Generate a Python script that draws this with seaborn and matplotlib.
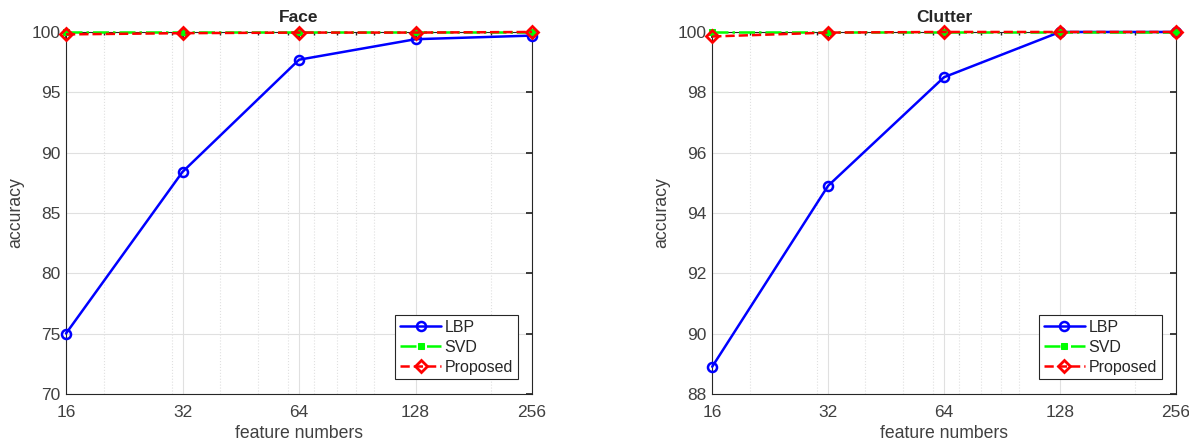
import numpy as np
import pandas as pd
import matplotlib
matplotlib.use("Agg")
import matplotlib.pyplot as plt
import matplotlib.ticker as mticker
import seaborn as sns

# ── data ─────────────────────────────────────────────
features = [16, 32, 64, 128, 256]

face_lbp      = [75.0, 88.4, 97.7, 99.4, 99.7]
face_svd      = [100.0, 100.0, 100.0, 100.0, 100.0]
face_proposed = [99.8, 99.9, 99.95, 99.95, 100.0]

clutter_lbp      = [88.9, 94.9, 98.5, 100.0, 100.0]
clutter_svd      = [100.0, 100.0, 100.0, 100.0, 100.0]
clutter_proposed = [99.85, 99.98, 100.0, 100.0, 100.0]

face_yticks    = [70, 75, 80, 85, 90, 95, 100]
clutter_yticks = [88, 90, 92, 94, 96, 98, 100]

sns.set_theme(style="white")
plt.rcParams["font.family"] = ["Liberation Sans", "DejaVu Sans"]

fig = plt.figure(figsize=(11.89, 4.44), dpi=100)
ax1 = fig.add_axes([0.0555, 0.113, 0.392, 0.815])
ax2 = fig.add_axes([0.599, 0.113, 0.390, 0.815])

def draw(ax, lbp, svd, prop, title, yticks):
    df = pd.DataFrame({"f": features, "LBP": lbp, "SVD": svd, "Proposed": prop})
    sns.lineplot(data=df, x="f", y="LBP", ax=ax, color="#0000ff", lw=1.8,
                 marker="o", ms=6.5, mfc="none", mec="#0000ff", mew=1.8,
                 label="LBP", clip_on=False, zorder=3)
    sns.lineplot(data=df, x="f", y="SVD", ax=ax, color="#00ff00", lw=1.8,
                 linestyle="-.", marker="s", ms=5, mfc="#00ff00", mec="#00ff00",
                 label="SVD", clip_on=False, zorder=4)
    sns.lineplot(data=df, x="f", y="Proposed", ax=ax, color="#ff0000", lw=1.8,
                 linestyle="--", marker="D", ms=6.5, mfc="none", mec="#ff0000", mew=2,
                 label="Proposed", clip_on=False, zorder=5)
    ax.set_xscale("log", base=2)
    ax.set_xlim(16, 256)
    ax.set_ylim(yticks[0], yticks[-1])
    ax.set_xticks(features)
    ax.xaxis.set_major_formatter(mticker.FixedFormatter([str(v) for v in features]))
    ax.xaxis.set_minor_locator(mticker.FixedLocator([20, 30, 40, 50, 60, 70, 80, 90, 100, 200]))
    ax.xaxis.set_minor_formatter(mticker.NullFormatter())
    ax.set_yticks(yticks)
    ax.grid(which="major", color="#e0e0e0", lw=0.8)
    ax.grid(which="minor", axis="x", color="#e0e0e0", lw=0.8, ls=":")
    ax.tick_params(which="both", direction="in", length=4, color="#262626",
                   labelsize=12.5, labelcolor="#404040", top=True, right=True, pad=4)
    ax.tick_params(axis="x", which="major", pad=8)
    ax.tick_params(which="minor", length=2)
    for s in ax.spines.values():
        s.set_color("#262626")
        s.set_linewidth(0.8)
    ax.set_title(title, fontsize=12.5, fontweight="bold", pad=7)
    ax.set_xlabel("feature numbers", fontsize=12.7, color="#404040", labelpad=4)
    ax.set_ylabel("accuracy", fontsize=12.7, color="#404040", labelpad=5)
    leg = ax.legend(loc="lower right", fontsize=11.5, frameon=True, fancybox=False,
                    edgecolor="#262626", framealpha=1, borderpad=0.3,
                    handlelength=2.6, handletextpad=0.2, labelspacing=0.3,
                    borderaxespad=0.9)
    leg.get_frame().set_linewidth(0.8)

draw(ax1, face_lbp, face_svd, face_proposed, "Face", face_yticks)
draw(ax2, clutter_lbp, clutter_svd, clutter_proposed, "Clutter", clutter_yticks)

fig.savefig("out.png", dpi=100)
